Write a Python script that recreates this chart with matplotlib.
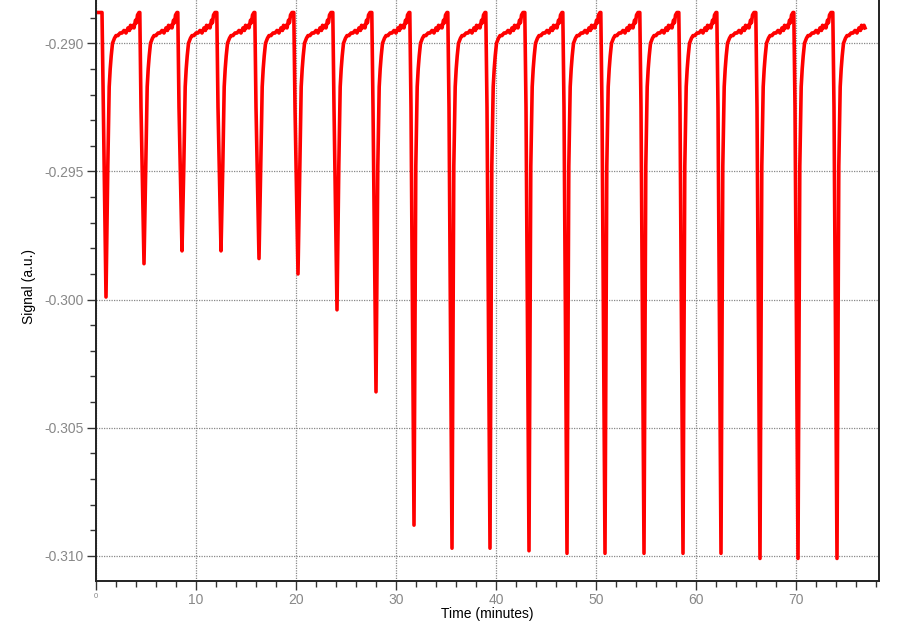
import matplotlib
matplotlib.use("Agg")
import matplotlib.pyplot as plt
from matplotlib.ticker import MultipleLocator, FormatStrFormatter

plt.rcParams['font.family'] = ['Liberation Sans', 'DejaVu Sans']
plt.rcParams['axes.unicode_minus'] = False

# times of the spike tips (minutes) and the signal at each tip
tip_times = [1.0, 4.8, 8.6, 12.5, 16.3, 20.2, 24.1, 28.0, 31.8, 35.6,
             39.4, 43.3, 47.1, 50.9, 54.8, 58.7, 62.5, 66.4, 70.2, 74.1]
tip_values = [-0.2999, -0.2986, -0.2981, -0.2981, -0.2984, -0.2990, -0.3004,
              -0.3036, -0.3088, -0.3097, -0.3097, -0.3098, -0.3099, -0.3099,
              -0.3099, -0.3099, -0.3099, -0.3101, -0.3101, -0.3101]

rec_dt = [0.18, 0.26, 0.32, 0.42, 0.52, 0.65, 0.85, 1.0, 1.2, 1.4, 1.6,
          1.8, 2.0, 2.2, 2.35, 2.45, 2.55, 2.7, 2.8, 2.95, 3.05, 3.15, 3.3]
rec_val = [-0.2948, -0.2930, -0.2917, -0.2910, -0.2905, -0.2900, -0.2898,
           -0.2897, -0.2897, -0.2896, -0.2896, -0.2895, -0.2896, -0.2894,
           -0.2895, -0.2893, -0.2894, -0.2893, -0.2894, -0.2891, -0.2892,
           -0.2889, -0.2888]
# fall towards a tip (minutes before tip, signal)
fall_dt = [0.42, 0.3]
fall_val = [-0.2888, -0.2925]

start_t, start_v = [0.0, 0.6], [-0.2888, -0.2888]
end_t = 2.8  # trace stops this long after the last tip

t, v = list(start_t), list(start_v)
for i, (tt, tv) in enumerate(zip(tip_times, tip_values)):
    if i > 0:
        for d, val in zip(fall_dt, fall_val):
            t.append(tt - d)
            v.append(val)
    t.append(tt)
    v.append(tv)
    for d, val in zip(rec_dt, rec_val):
        if i == len(tip_times) - 1 and d > end_t:
            break
        t.append(tt + d)
        v.append(val)

fig = plt.figure(figsize=(9, 6.21), dpi=100)
ax = fig.add_axes([96 / 900, 40 / 621, 783 / 900, 589 / 621])

ax.plot(t, v, color='#ff0000', lw=2.6, solid_joinstyle='round')

ax.set_xlim(0, 78.3)
ax.set_ylim(-0.31098, -0.2880)

ax.xaxis.set_major_locator(MultipleLocator(10))
ax.xaxis.set_minor_locator(MultipleLocator(2))
ax.yaxis.set_major_locator(MultipleLocator(0.005))
ax.yaxis.set_minor_locator(MultipleLocator(0.001))
ax.yaxis.set_major_formatter(FormatStrFormatter('%.3f'))

ax.grid(True, which='major', color='#888888', ls=(0, (1, 1)), lw=0.9)
ax.tick_params(which='major', direction='out', length=6.5, width=1,
               colors='#333333', labelcolor='#888888', labelsize=10, pad=2.5)
ax.tick_params(which='minor', direction='out', length=4, width=1,
               colors='#333333')
for s in ax.spines.values():
    s.set_linewidth(1.4)
    s.set_color('#222222')

fig.canvas.draw()
for lab in ax.get_xticklabels():
    if lab.get_text() == '0':
        lab.set_fontsize(5.5)

ax.set_xlabel('Time (minutes)', fontsize=10, color='black')
ax.set_ylabel('Signal (a.u.)', fontsize=10, color='black')
ax.xaxis.set_label_coords(0.5, -0.044)
ax.yaxis.set_label_coords(-0.077, 0.5)

fig.savefig('out.png', dpi=100)
